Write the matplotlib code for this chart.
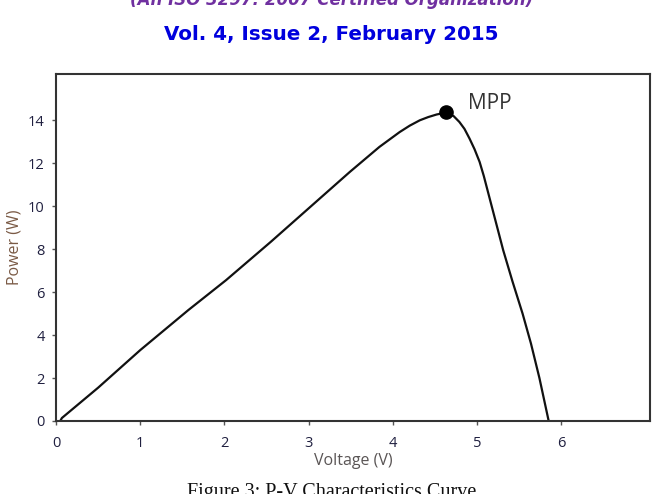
import matplotlib
matplotlib.use("Agg")
import matplotlib.pyplot as plt

# P-V curve points
voltage = [0.05, 0.07, 0.50, 1.00, 1.57, 2.02, 2.55, 3.02, 3.49, 3.84, 4.08, 4.20, 4.32, 4.42,
           4.52, 4.62, 4.72, 4.79, 4.85, 4.91, 4.97, 5.03, 5.08, 5.12, 5.17, 5.31, 5.42, 5.54,
           5.64, 5.74, 5.85]
power = [0.0, 0.14, 1.55, 3.30, 5.16, 6.56, 8.34, 9.97, 11.60, 12.76, 13.45, 13.75, 14.00, 14.15,
         14.27, 14.35, 14.20, 13.92, 13.60, 13.15, 12.65, 12.06, 11.40, 10.80, 10.05, 7.95, 6.50,
         5.00, 3.60, 2.00, 0.0]
mpp_v = [4.63]
mpp_p = [14.37]
x_ticks = [0, 1, 2, 3, 4, 5, 6]
y_ticks = [0, 2, 4, 6, 8, 10, 12, 14]

fig = plt.figure(figsize=(6.63, 4.94), dpi=100)
ax = fig.add_axes([0.0845, 0.1478, 0.8955, 0.7022])

ax.plot(voltage, power, color='#111111', lw=1.6, solid_joinstyle='round', solid_capstyle='round')
ax.plot(mpp_v, mpp_p, 'o', color='black', markersize=9.5)
ax.text(5.15, 14.8, 'MPP', fontsize=15, family='Open Sans', color='#333333',
        ha='center', va='center')

ax.set_xlim(0, 7.05)
ax.set_ylim(0, 16.15)
ax.set_xticks(x_ticks)
ax.set_yticks(y_ticks)
ax.tick_params(axis='both', direction='out', length=3, width=1, color='#555555',
               labelsize=10.5, labelcolor='#202040')
ax.tick_params(axis='x', pad=8)
ax.tick_params(axis='y', pad=5)
for lab in ax.get_xticklabels() + ax.get_yticklabels():
    lab.set_family('Open Sans')

for s in ax.spines.values():
    s.set_color('#333333')
    s.set_linewidth(1.5)

ax.set_xlabel('Voltage (V)', fontsize=11.5, family='Open Sans', color='#5a5555', labelpad=1)
ax.set_ylabel('Power (W)', fontsize=11.5, family='Open Sans', color='#7a5a45', labelpad=4)

fig.text(0.5, 1 - 5 / 494, '(An ISO 3297: 2007 Certified Organization)', ha='center',
         va='baseline', fontsize=12, fontweight='bold', style='italic', color='#7030a0',
         family='DejaVu Sans')
fig.text(0.5, 1 - 34 / 494, 'Vol. 4, Issue 2, February 2015', ha='center', va='center',
         fontsize=14.3, fontweight='bold', color='#0000dd', family='DejaVu Sans')
fig.text(0.5, (494 - 483) / 494, 'Figure 3: P-V Characteristics Curve', ha='center',
         va='top', fontsize=14.5, color='#111111', family='Liberation Serif')

fig.savefig('out.png', dpi=100)
